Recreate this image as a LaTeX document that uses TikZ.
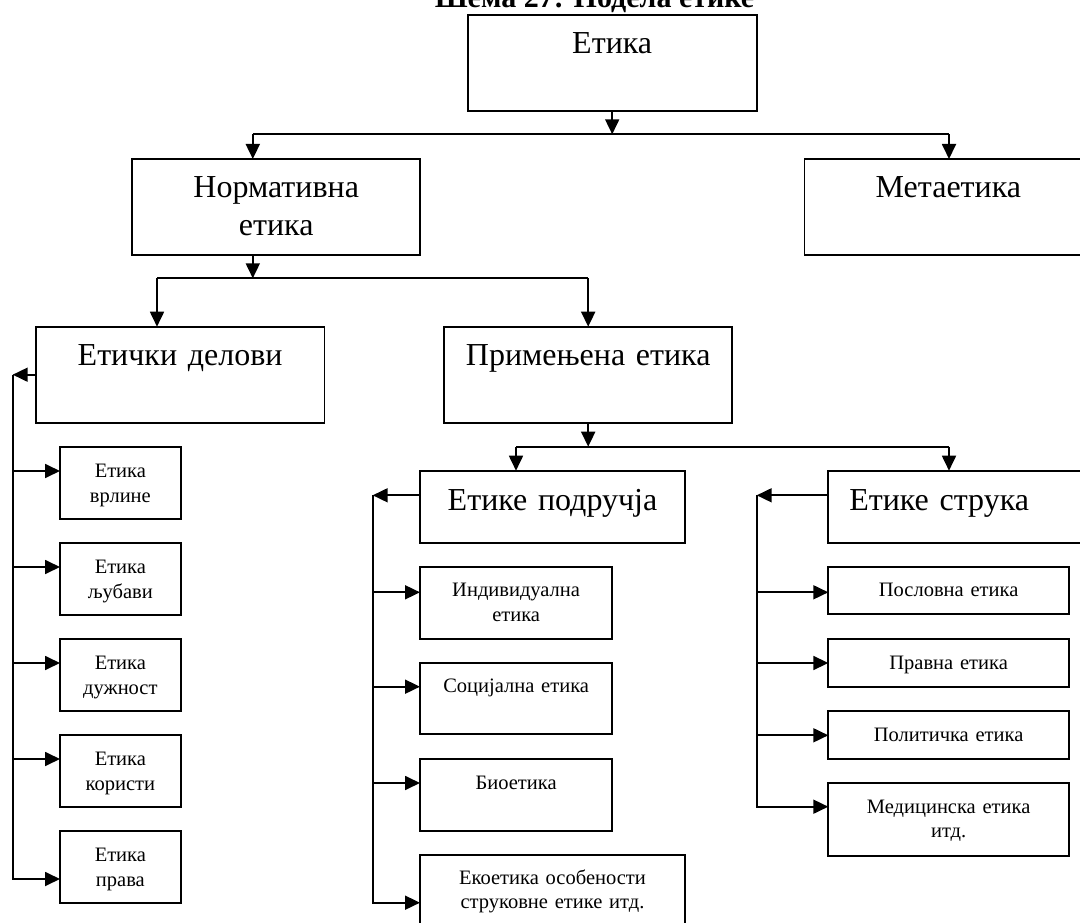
\documentclass[tikz,border=0pt]{standalone}
\usepackage{fontspec}
\setmainfont{Liberation Serif}
\usetikzlibrary{arrows.meta}

\begin{document}
\begin{tikzpicture}[x=1pt, y=-1pt,
	bigbox/.style={draw, line width=1.8pt, rectangle, anchor=north west, outer sep=0pt, inner xsep=2pt, inner ysep=0pt, align=center, font=\fontsize{32}{38}\selectfont, text height=39pt},
	smallbox/.style={draw, line width=1.8pt, rectangle, anchor=north west, outer sep=0pt, inner xsep=2pt, inner ysep=0pt, align=center, font=\fontsize{20.5}{24.5}\selectfont, text height=30pt},
	conn/.style={line width=1.8pt},
	arr/.style={line width=1.8pt, -{Triangle[length=15pt, width=14pt]}}]
			\useasboundingbox (0,0) rectangle (1080,923);
			\node[font=\bfseries\fontsize{30}{36}\selectfont, anchor=base](title) at (594.5,7.3){Шема 27: Подела етике};
			% upper levels
			\node[bigbox, text width=285pt, text depth=56.7pt](etika) at (467.7,15){Етика};
			\node[bigbox, text width=284pt, text depth=56.7pt](norm) at (132.2,159){Нормативна\\етика};
			\node[bigbox, text width=284pt, text depth=56.7pt](meta) at (804.4,159){Метаетика};
			\node[bigbox, text width=284.6pt, text depth=57pt](delovi) at (35.8,326.7){Етички делови};
			\node[bigbox, text width=284pt, text depth=57pt](prim) at (444.2,326.7){Примењена етика};
			\node[bigbox, text width=261pt, text height=40pt, text depth=32pt](podr) at (420,470.7){Етике подручја};
			\node[bigbox, text width=223pt, inner xsep=21pt, align=left, text height=40pt, text depth=32pt](struka) at (828.3,470.7){Етике струка};
			% left column
			\node[smallbox, text width=116.7pt, text height=30.7pt, text depth=41.3pt](vrline) at (60,447){Етика\\врлине};
			\node[smallbox, text width=116.7pt, text height=30.7pt, text depth=41.3pt](ljubavi) at (60,543){Етика\\љубави};
			\node[smallbox, text width=116.7pt, text height=30.7pt, text depth=41.3pt](duznost) at (60,639){Етика\\дужност};
			\node[smallbox, text width=116.7pt, text height=30.7pt, text depth=41.3pt](koristi) at (60,735){Етика\\користи};
			\node[smallbox, text width=116.7pt, text height=30.7pt, text depth=41.3pt](prava) at (60,831){Етика\\права};
			% middle column
			\node[smallbox, text width=188.3pt, text depth=42.3pt](indiv) at (420,566.7){Индивидуална\\етика};
			\node[smallbox, text width=188.3pt, text depth=41.6pt](soc) at (420,662.7){Социјална етика};
			\node[smallbox, text width=188.3pt, text depth=41.7pt](bio) at (420,759){Биоетика};
			\node[smallbox, text width=261pt, text height=29.3pt, text depth=45pt](eko) at (420,854.7){Екоетика особености\\струковне етике итд.};
			% right column
			\node[smallbox, text width=236.7pt, text depth=17.6pt](poslovna) at (828.3,566.7){Пословна етика};
			\node[smallbox, text width=236.7pt, text depth=17.7pt](pravna) at (828.3,639){Правна етика};
			\node[smallbox, text width=236.7pt, text depth=18pt](politicka) at (828.3,711){Политичка етика};
			\node[smallbox, text width=236.7pt, text height=30.6pt, text depth=42.4pt](medicinska) at (828.3,782.7){Медицинска етика\\итд.};
			% branch points
			\coordinate (s1) at (612.2,134.3);
			\coordinate (s1l) at (252.8,134.3);
			\coordinate (s1r) at (949,134.3);
			\coordinate (s2) at (252.8,278.3);
			\coordinate (s2l) at (157,278.3);
			\coordinate (s2r) at (588.2,278.3);
			\coordinate (s3) at (588.2,446.7);
			\coordinate (s3l) at (516,446.7);
			\coordinate (s3r) at (949,446.7);
			\coordinate (da) at (12.7,374.7);
			\coordinate (db) at (372.7,495.3);
			\coordinate (dc) at (756.7,495.3);
			% tree
			\draw[arr] (etika.south) -- (s1);
			\draw[conn] (s1l) -- (s1r);
			\draw[arr] (s1l) -- (s1l |- norm.north);
			\draw[arr] (s1r) -- (s1r |- meta.north);
			\draw[arr] (s1l |- norm.south) -- (s2);
			\draw[conn] (s2l) -- (s2r);
			\draw[arr] (s2l) -- (s2l |- delovi.north);
			\draw[arr] (s2r) -- (s2r |- prim.north);
			\draw[arr] (prim.south) -- (s3);
			\draw[conn] (s3l) -- (s3r);
			\draw[arr] (s3l) -- (s3l |- podr.north);
			\draw[arr] (s3r) -- (s3r |- struka.north);
			% side lists
			\draw[arr] (delovi.west) -- (da);
			\draw[arr] (da) |- ([yshift=-24pt]vrline.north west);
			\draw[arr] (da) |- ([yshift=-24pt]ljubavi.north west);
			\draw[arr] (da) |- ([yshift=-24pt]duznost.north west);
			\draw[arr] (da) |- ([yshift=-24pt]koristi.north west);
			\draw[arr] (da) |- ([yshift=-48pt]prava.north west);
			\draw[arr] ([yshift=-24.6pt]podr.north west) -- (db);
			\draw[arr] (db) |- ([yshift=-25.6pt]indiv.north west);
			\draw[arr] (db) |- ([yshift=-24pt]soc.north west);
			\draw[arr] (db) |- ([yshift=-24pt]bio.north west);
			\draw[arr] (db) |- ([yshift=-48pt]eko.north west);
			\draw[arr] ([yshift=-24.6pt]struka.north west) -- (dc);
			\draw[arr] (dc) |- ([yshift=-25.6pt]poslovna.north west);
			\draw[arr] (dc) |- ([yshift=-24pt]pravna.north west);
			\draw[arr] (dc) |- ([yshift=-24.3pt]politicka.north west);
			\draw[arr] (dc) |- ([yshift=-24pt]medicinska.north west);
\end{tikzpicture}
\end{document}
